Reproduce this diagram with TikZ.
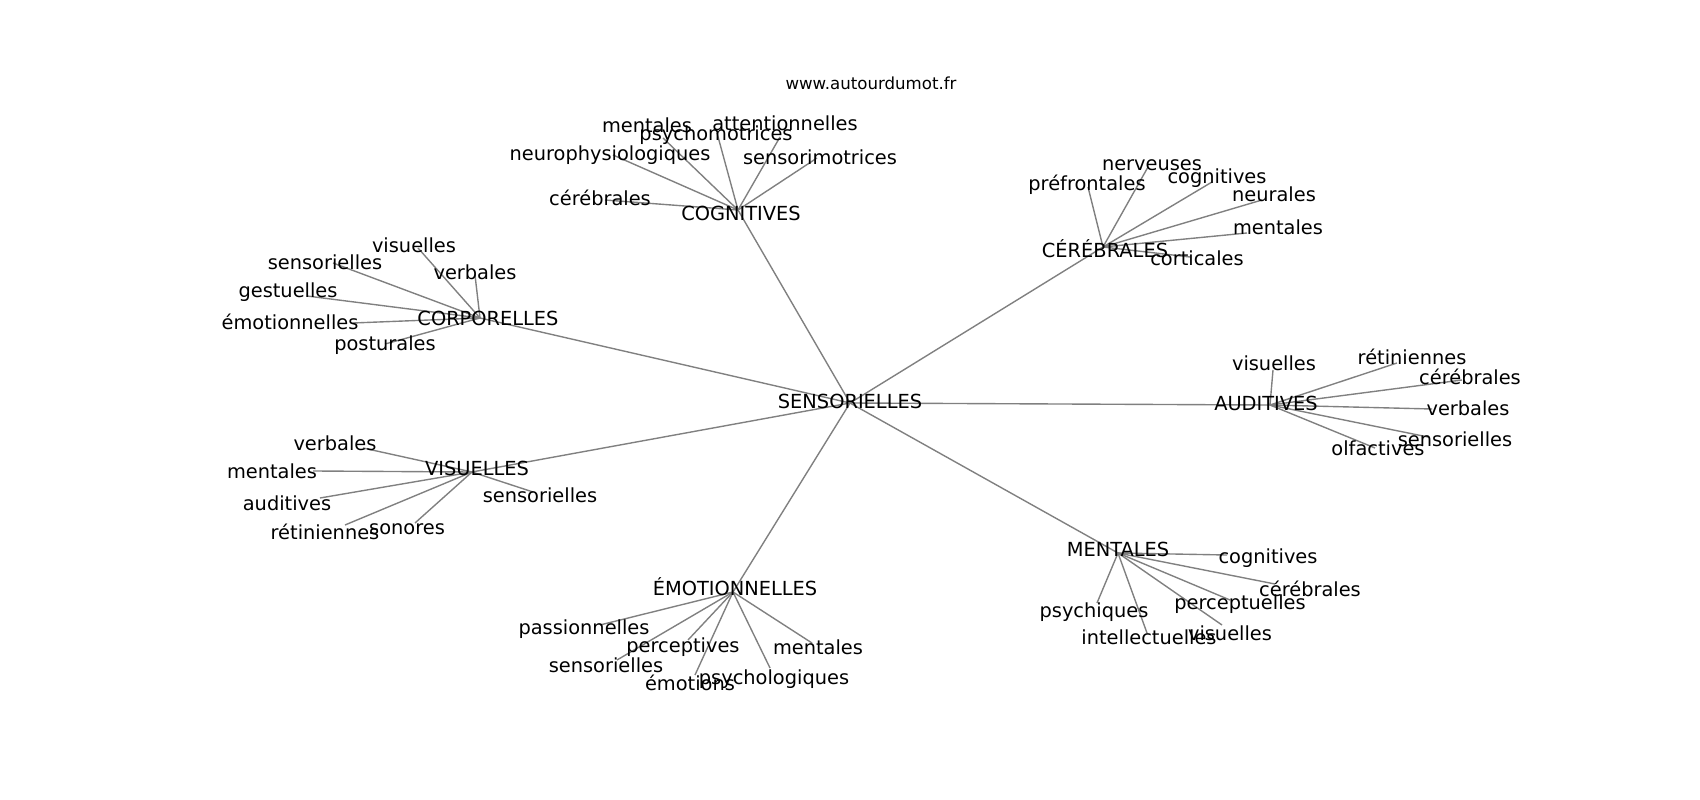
\documentclass[tikz,border=0pt]{standalone}
\usepackage{fontspec}
\setmainfont{DejaVu Sans}
\usetikzlibrary{backgrounds}
\tikzset{
  lbl/.style={font=\fontsize{14pt}{16pt}\selectfont, inner sep=0pt, text height=1.06em, text depth=0pt, anchor=center},
  ttl/.style={font=\fontsize{12pt}{14pt}\selectfont, inner sep=0pt, text height=1.06em, text depth=0pt, anchor=center},
  edge/.style={draw=gray, line width=1pt}
}
\newcommand{\gnode}[4]{\coordinate (#1) at (#2); \node[lbl] (#1-l) at (#3) {#4};}
\begin{document}
\begin{tikzpicture}[x=0.01in, y=-0.01in]
\useasboundingbox (0,0) rectangle (1700,800);
\node[ttl] (title) at (871,82) {www.autourdumot.fr};
% hubs
\gnode{S}{850,403}{850,401}{SENSORIELLES}
\gnode{cog}{738,210}{741,213}{COGNITIVES}
\gnode{cer}{1103,247}{1105,250}{CÉRÉBRALES}
\gnode{cor}{480,318}{488,318}{CORPORELLES}
\gnode{aud}{1270,405}{1266,403}{AUDITIVES}
\gnode{vis}{472,472}{477,468}{VISUELLES}
\gnode{emo}{733,592}{735,588}{ÉMOTIONNELLES}
\gnode{men}{1118,553}{1118,549}{MENTALES}
% cognitives
\gnode{cog1}{663,138}{647,125}{mentales}
\gnode{cog2}{717,133}{716,133}{psychomotrices}
\gnode{cog3}{780,137}{785,123}{attentionnelles}
\gnode{cog4}{613,155}{610,153}{neurophysiologiques}
\gnode{cog5}{817,158}{820,157}{sensorimotrices}
\gnode{cog6}{605,200}{600,198}{cérébrales}
% cerebrales
\gnode{cer1}{1088,187}{1087,183}{préfrontales}
\gnode{cer2}{1148,167}{1152,163}{nerveuses}
\gnode{cer3}{1212,182}{1217,176}{cognitives}
\gnode{cer4}{1262,200}{1274,194}{neurales}
\gnode{cer5}{1247,233}{1278,227}{mentales}
\gnode{cer6}{1190,257}{1197,258}{corticales}
% corporelles
\gnode{cor1}{418,248}{414,245}{visuelles}
\gnode{cor2}{333,263}{325,262}{sensorielles}
\gnode{cor3}{475,275}{475,272}{verbales}
\gnode{cor4}{307,296}{288,290}{gestuelles}
\gnode{cor5}{353,323}{290,322}{émotionnelles}
\gnode{cor6}{385,344}{385,343}{posturales}
% auditives
\gnode{aud1}{1273,370}{1274,363}{visuelles}
\gnode{aud2}{1397,363}{1412,357}{rétiniennes}
\gnode{aud3}{1462,380}{1470,377}{cérébrales}
\gnode{aud4}{1432,409}{1468,408}{verbales}
\gnode{aud5}{1428,437}{1455,439}{sensorielles}
\gnode{aud6}{1375,448}{1378,448}{olfactives}
% visuelles
\gnode{vis1}{363,448}{335,443}{verbales}
\gnode{vis2}{313,471}{272,471}{mentales}
\gnode{vis3}{320,498}{287,503}{auditives}
\gnode{vis4}{533,492}{540,495}{sensorielles}
\gnode{vis5}{345,525}{325,532}{rétiniennes}
\gnode{vis6}{415,523}{407,527}{sonores}
% emotionnelles
\gnode{emo1}{600,625}{584,627}{passionnelles}
\gnode{emo2}{688,640}{683,645}{perceptives}
\gnode{emo3}{617,660}{606,665}{sensorielles}
\gnode{emo4}{812,643}{818,647}{mentales}
\gnode{emo5}{770,668}{774,677}{psychologiques}
\gnode{emo6}{695,675}{690,683}{émotions}
% mentales
\gnode{men1}{1227,555}{1268,556}{cognitives}
\gnode{men2}{1275,584}{1310,589}{cérébrales}
\gnode{men3}{1230,600}{1240,602}{perceptuelles}
\gnode{men4}{1097,603}{1094,610}{psychiques}
\gnode{men5}{1147,633}{1149,637}{intellectuelles}
\gnode{men6}{1222,625}{1230,633}{visuelles}
\begin{scope}[on background layer]
\fill[white] (0,0) rectangle (1700,800);
\foreach \h in {cog,cer,cor,aud,vis,emo,men}{
  \draw[edge] (S) -- (\h);
  \foreach \i in {1,...,6}{\draw[edge] (\h) -- (\h\i);}
}
\end{scope}
\end{tikzpicture}
\end{document}
